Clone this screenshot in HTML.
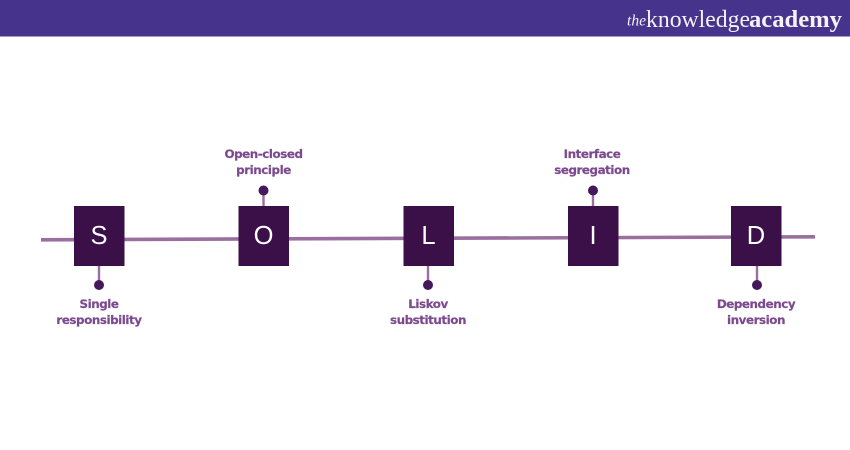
<!DOCTYPE html>
<html><head><meta charset="utf-8"><style>
html,body{margin:0;padding:0;background:#fff}
svg{display:block}
.l{font:bold 11.9px "DejaVu Sans","Liberation Sans",sans-serif;fill:#7c4a8f;stroke:#7c4a8f;stroke-width:.2;text-anchor:middle;letter-spacing:-.45px}
.b{font:25.500px "Liberation Sans",sans-serif;fill:#fff;text-anchor:middle}
.s{font-family:"Liberation Serif",serif;fill:#f4f1f8}
</style></head><body>
<svg width="850" height="450" viewBox="0 0 850 450" xmlns="http://www.w3.org/2000/svg">
<rect width="850" height="450" fill="#fff"/>
<rect width="850" height="36.5" fill="#46338b"/>
<text class="s" x="627" y="25.5" font-size="16" font-style="italic" textLength="19" lengthAdjust="spacingAndGlyphs">the</text>
<text class="s" x="646" y="27" font-size="24" textLength="104" lengthAdjust="spacingAndGlyphs">knowledge</text>
<text class="s" x="749" y="27" font-size="24" font-weight="bold" textLength="93" lengthAdjust="spacingAndGlyphs">academy</text>
<polygon points="41,238 815,235 815,238.6 41,241.6" fill="#9b6ea0"/>
<g stroke="#9b6ea0" stroke-width="2.4">
<line x1="99" y1="262" x2="99" y2="285"/>
<line x1="263.500" y1="190" x2="263.500" y2="210"/>
<line x1="428" y1="262" x2="428" y2="285"/>
<line x1="593" y1="190" x2="593" y2="210"/>
<line x1="757" y1="262" x2="757" y2="285"/>
</g>
<g fill="#3b1049">
<rect x="74" y="206" width="50.500" height="60"/>
<rect x="238.500" y="206" width="50.500" height="60"/>
<rect x="403.500" y="206" width="50.500" height="60"/>
<rect x="568" y="206" width="50.500" height="60"/>
<rect x="731" y="206" width="50.500" height="60"/>
</g>
<g fill="#44185a">
<circle cx="99" cy="285" r="5"/>
<circle cx="263.500" cy="190.500" r="5"/>
<circle cx="428" cy="285" r="5"/>
<circle cx="593" cy="190.500" r="5"/>
<circle cx="757" cy="285" r="5"/>
</g>
<text class="b" x="99" y="244">S</text>
<text class="b" x="263.500" y="244">O</text>
<text class="b" x="428.500" y="244">L</text>
<text class="b" x="593" y="244">I</text>
<text class="b" x="756" y="244">D</text>
<text class="l" x="99" y="308">Single</text>
<text class="l" x="99" y="324">responsibility</text>
<text class="l" x="263.500" y="158">Open-closed</text>
<text class="l" x="263.500" y="174">principle</text>
<text class="l" x="428" y="308">Liskov</text>
<text class="l" x="428" y="324">substitution</text>
<text class="l" x="592" y="158">Interface</text>
<text class="l" x="592" y="174">segregation</text>
<text class="l" x="756" y="308">Dependency</text>
<text class="l" x="756" y="324">inversion</text>
</svg>
</body></html>
